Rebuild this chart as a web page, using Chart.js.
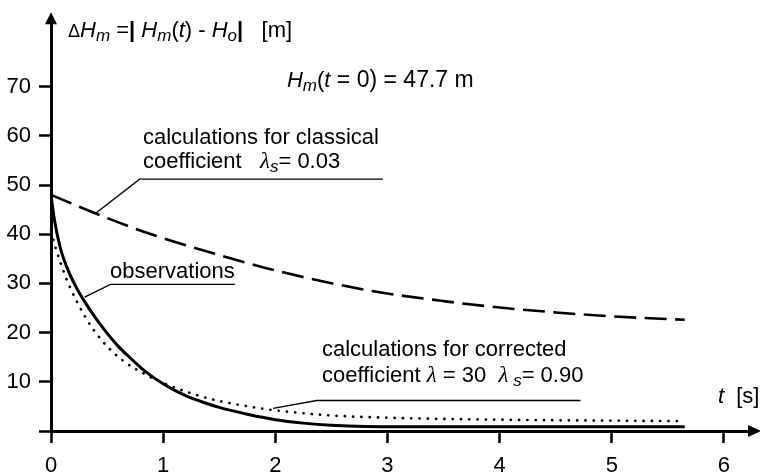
<!DOCTYPE html>
<html>
<head>
<meta charset="utf-8">
<script src="https://cdn.jsdelivr.net/npm/chart.js@4.4.0/dist/chart.umd.min.js"></script>
<style>
  html, body { margin: 0; padding: 0; background: #fff; }
  #chart { display: block; }
</style>
</head>
<body>
<canvas id="chart" width="760" height="476"></canvas>
<script>
(function () {
  'use strict';

  // ===== Data =====
  const X_TICKS = [0, 1, 2, 3, 4, 5, 6];
  const Y_TICKS = [0, 10, 20, 30, 40, 50, 60, 70];

  // observations (solid)
  const OBS_T = [0, 0.03, 0.08, 0.15, 0.23, 0.30, 0.40, 0.50, 0.60, 0.70, 0.80, 0.90, 1.00, 1.10, 1.20, 1.35, 1.50, 1.75, 2.00, 2.25, 2.50, 2.80, 3.20, 4.50, 5.65];
  const OBS_H = [48, 43, 37.5, 32.8, 29.0, 26.3, 22.9, 19.9, 17.2, 15.0, 12.9, 11.1, 9.6, 8.3, 7.2, 5.9, 4.8, 3.4, 2.3, 1.6, 1.15, 0.9, 0.85, 0.85, 0.85];

  // classical coefficient (dashed)
  const CLASSIC_T = [0, 0.40, 0.73, 1.00, 1.33, 1.92, 2.51, 2.93, 3.50, 4.00, 4.50, 5.00, 5.65];
  const CLASSIC_H = [48, 44.2, 41.3, 39.2, 36.9, 33.1, 30.0, 28.2, 26.4, 25.1, 24.1, 23.3, 22.6];

  // corrected coefficient (dotted)
  const CORR_T = [0, 0.05, 0.11, 0.16, 0.31, 0.45, 0.63, 0.85, 1.06, 1.30, 1.48, 1.87, 2.00, 2.47, 3.00, 4.00, 5.00, 5.65];
  const CORR_H = [40.5, 36.6, 32.6, 29.7, 23.0, 18.5, 14.5, 11.4, 9.2, 7.3, 6.2, 4.6, 4.2, 3.2, 2.7, 2.3, 2.1, 2.0];

  const FONT = "'Liberation Sans', Arial, Helvetica, sans-serif";
  const GREEK = "'Liberation Serif', 'DejaVu Serif', serif";

  const toPoints = (ts, hs) => ts.map((t, i) => ({ x: t, y: hs[i] }));

  // text run helpers
  const N = (text, size) => ({ text, font: `${size || 22}px ${FONT}` });
  const B = (text) => ({ text, font: `bold 22px ${FONT}` });
  const I = (text) => ({ text, font: `italic 22px ${FONT}` });
  const S = (text) => ({ text, font: `italic 17px ${FONT}`, dy: 4 });
  const L = (text) => ({ text, font: `italic 23px ${GREEK}` });

  const LABELS = [
    { at: [0.152, 80.1], runs: [N('\u0394', 18), I('H'), S('m'), N(' ='), B('|'), N(' '), I('H'), S('m'), N('('), I('t'), N(') - '), I('H'), S('o'), B('|'), N('   [m]')] },
    { at: [2.104, 70.0], runs: [I('H'), S('m'), N('('), I('t'), N(' = 0) = 47.7 m', 23)] },
    { at: [0.82, 58.3], runs: [N('calculations for classical')] },
    { at: [0.82, 53.5], runs: [N('coefficient   '), L('\u03bb'), S('s'), N('= 0.03')] },
    { at: [0.526, 31.0], runs: [N('observations')] },
    { at: [2.416, 15.3], runs: [N('calculations for corrected')] },
    { at: [2.416, 9.9], runs: [N('coefficient '), L('\u03bb'), N(' = 30  '), L('\u03bb'), S(' s'), N('= 0.90')] },
    { at: [5.946, 5.6], runs: [I('t'), N('  [s]')] },
  ];

  // leader lines: curve point -> elbow -> end of underline
  const LEADERS = [
    [[0.39, 44.1], [0.79, 51.2], [2.96, 51.2]],
    [[0.30, 27.2], [0.53, 29.8], [1.64, 29.8]],
    [[1.98, 4.6], [2.37, 6.2], [4.72, 6.2]],
  ];

  const annotations = {
    id: 'annotations',
    afterDatasetsDraw(chart) {
      const { ctx } = chart;
      const xs = chart.scales.x, ys = chart.scales.y;
      ctx.save();
      ctx.strokeStyle = '#000';
      ctx.lineWidth = 1.4;
      LEADERS.forEach((pts) => {
        ctx.beginPath();
        pts.forEach((p, i) => {
          const px = xs.getPixelForValue(p[0]), py = ys.getPixelForValue(p[1]);
          if (i === 0) ctx.moveTo(px, py); else ctx.lineTo(px, py);
        });
        ctx.stroke();
      });

      ctx.fillStyle = '#000';
      ctx.textBaseline = 'alphabetic';
      ctx.textAlign = 'left';
      LABELS.forEach((lab) => {
        let x = xs.getPixelForValue(lab.at[0]);
        const y = ys.getPixelForValue(lab.at[1]);
        lab.runs.forEach((r) => {
          ctx.font = r.font;
          ctx.fillText(r.text, x, y + (r.dy || 0));
          x += ctx.measureText(r.text).width;
        });
      });
      ctx.restore();
    },
  };

  const axisArrows = {
    id: 'axisArrows',
    afterDraw(chart) {
      const { ctx, chartArea: a } = chart;
      const x0 = chart.scales.x.getPixelForValue(0);
      const y0 = chart.scales.y.getPixelForValue(0);
      ctx.save();
      ctx.fillStyle = '#000';
      ctx.beginPath();
      ctx.moveTo(x0, a.top - 9);
      ctx.lineTo(x0 - 6, a.top + 3);
      ctx.lineTo(x0 + 6, a.top + 3);
      ctx.closePath();
      ctx.fill();
      ctx.beginPath();
      ctx.moveTo(a.right + 9, y0);
      ctx.lineTo(a.right - 4, y0 - 6);
      ctx.lineTo(a.right - 4, y0 + 6);
      ctx.closePath();
      ctx.fill();
      ctx.restore();
    },
  };

  const axisStyle = {
    grid: {
      display: true,
      drawOnChartArea: false,
      drawTicks: true,
      tickLength: 12,
      tickWidth: 2.5,
      tickColor: '#000',
      color: '#000',
    },
    border: { display: true, color: '#000', width: 3 },
  };

  new Chart(document.getElementById('chart'), {
    type: 'scatter',
    data: {
      datasets: [
        {
          label: 'observations',
          data: toPoints(OBS_T, OBS_H),
          borderColor: '#000',
          borderWidth: 3,
        },
        {
          label: 'classical',
          data: toPoints(CLASSIC_T, CLASSIC_H),
          borderColor: '#000',
          borderWidth: 2.6,
          borderDash: [22, 8.5],
        },
        {
          label: 'corrected',
          data: toPoints(CORR_T, CORR_H),
          borderColor: '#000',
          borderWidth: 2.7,
          borderDash: [0.1, 8.2],
          borderCapStyle: 'round',
        },
      ],
    },
    options: {
      responsive: false,
      devicePixelRatio: 1,
      animation: false,
      showLine: true,
      layout: { autoPadding: false, padding: { left: 0, right: 8, top: 17, bottom: 0 } },
      elements: {
        point: { radius: 0, hoverRadius: 0 },
        line: { cubicInterpolationMode: 'monotone', fill: false },
      },
      plugins: { legend: { display: false }, tooltip: { enabled: false } },
      scales: {
        x: {
          type: 'linear',
          min: 0,
          max: 6.25,
          afterFit: (s) => { s.height = 45; },
          afterBuildTicks: (s) => { s.ticks = X_TICKS.map((v) => ({ value: v })); },
          ticks: { color: '#000', padding: 10, maxRotation: 0, font: { family: FONT, size: 22 } },
          ...axisStyle,
        },
        y: {
          type: 'linear',
          min: 0,
          max: 83.3,
          afterFit: (s) => { s.width = 51; },
          afterBuildTicks: (s) => { s.ticks = Y_TICKS.map((v) => ({ value: v })); },
          ticks: {
            color: '#000',
            padding: 8,
            font: { family: FONT, size: 22 },
            callback: (v) => (v === 0 ? '' : v),
          },
          ...axisStyle,
        },
      },
    },
    plugins: [annotations, axisArrows],
  });
})();
</script>
</body>
</html>
